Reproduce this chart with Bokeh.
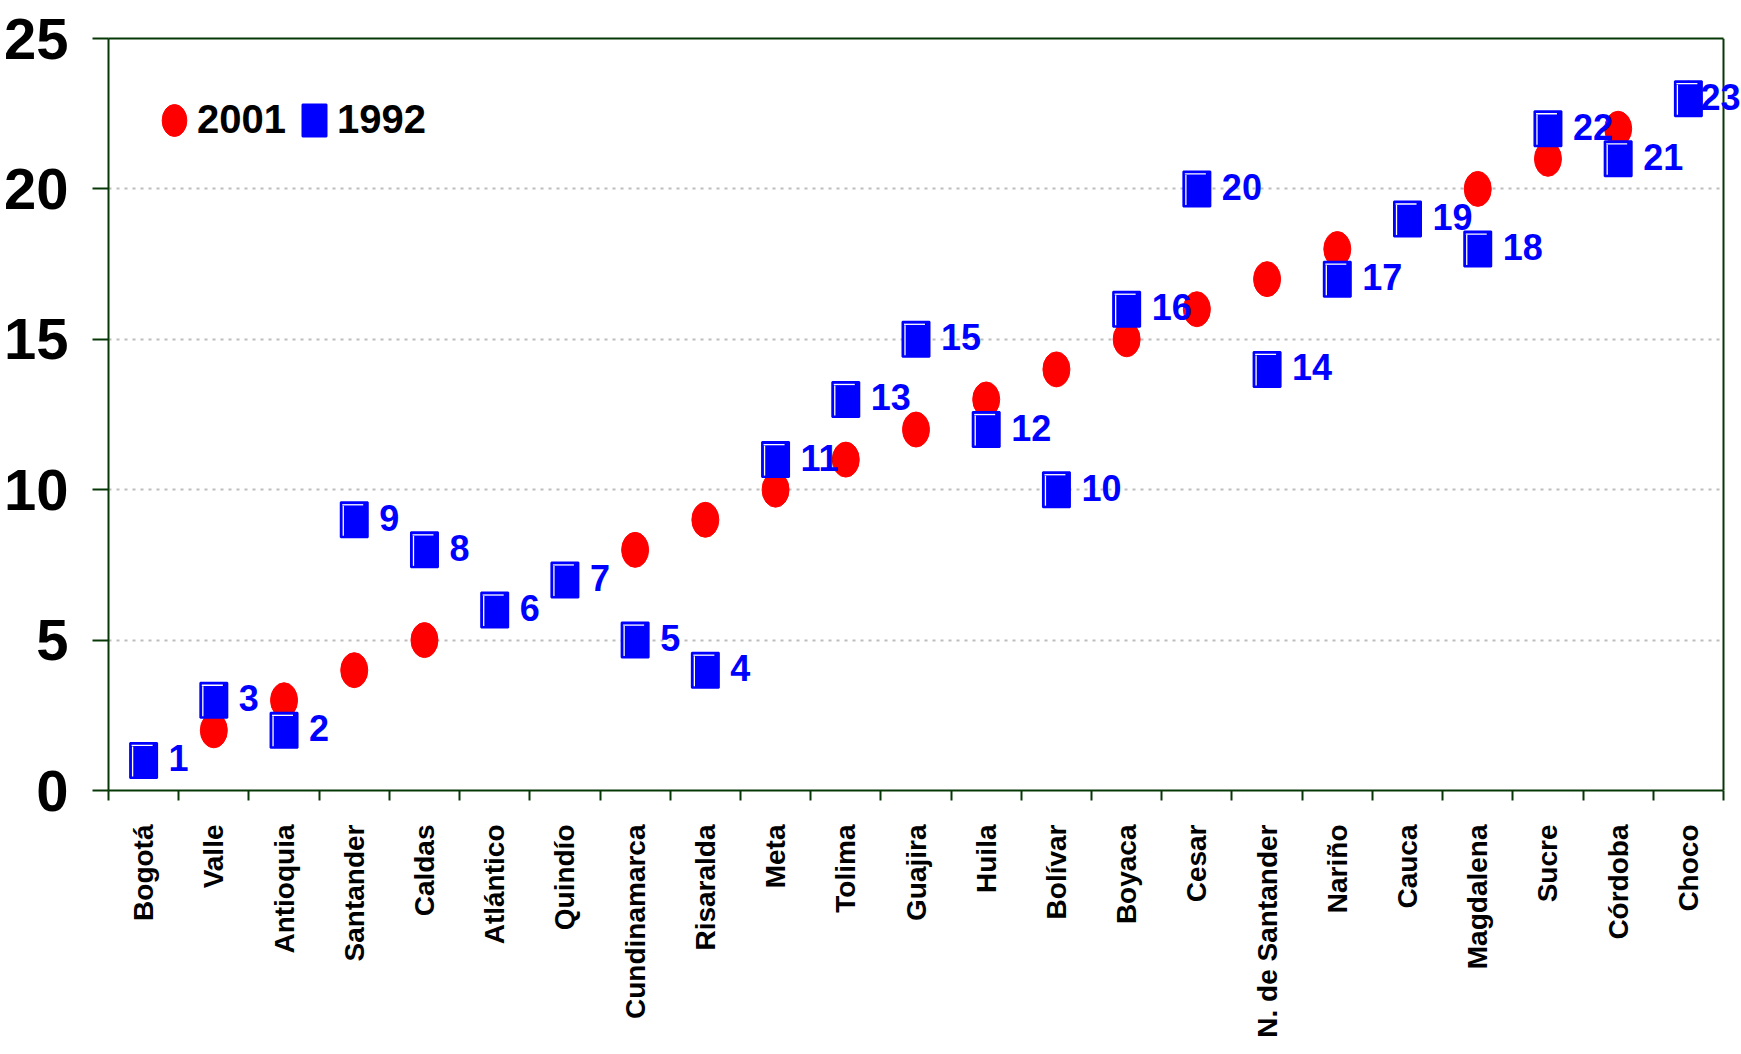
from bokeh.plotting import figure
from bokeh.models import (ColumnDataSource, FixedTicker, Legend, LegendItem, Range1d,
                          LabelSet, LinearAxis, Span)
from bokeh.core.properties import value, field
from bokeh.embed import file_html
from bokeh.resources import INLINE

# ---------------- data ----------------
departments = ["Bogotá", "Valle", "Antioquia", "Santander", "Caldas", "Atlántico",
               "Quindío", "Cundinamarca", "Risaralda", "Meta", "Tolima", "Guajira",
               "Huila", "Bolívar", "Boyaca", "Cesar", "N. de Santander", "Nariño",
               "Cauca", "Magdalena", "Sucre", "Córdoba", "Choco"]
rank_2001 = [1, 2, 3, 4, 5, 6, 7, 8, 9, 10, 11, 12, 13, 14, 15, 16, 17, 18, 19, 20, 21, 22, 23]
rank_1992 = [1, 3, 2, 9, 8, 6, 7, 5, 4, 11, 13, 15, 12, 10, 16, 20, 14, 17, 19, 18, 22, 21, 23]
y_ticks = [0, 5, 10, 15, 20, 25]
series_labels = ["2001", "1992"]

# ---------------- style ----------------
FONT = "'Liberation Sans', Arial, sans-serif"
GREEN = "#063806"
RED = "#ff0000"
BLUE = "#0000ff"

PLOT_W, EXTRA_W, FRAME_H = 1615, 17, 752   # EXTRA_W: room right of the box for the last label
n = len(departments)
positions = [i + 1 for i in range(n)]
px_x = PLOT_W / n
px_y = FRAME_H / (y_ticks[-1] - y_ticks[0])
x_lo, x_hi = 0.5, n + 0.5
label_dx = [25 if i < n - 1 else 12 for i in range(n)]

src = ColumnDataSource(dict(
    x=positions, r01=rank_2001, r92=rank_1992,
    lbl=[str(v) for v in rank_1992], dx=label_dx,
    hl_top_x=[p - 1.5 / px_x for p in positions],
    hl_top_y=[r + (35 / 2 - 2.5) / px_y for r in rank_1992],
    hl_left_x=[p - (13.5 - 2.5) / px_x for p in positions],
    hl_left_y=[r - 1.0 / px_y for r in rank_1992],
))

p = figure(frame_width=PLOT_W + EXTRA_W, frame_height=FRAME_H,
           x_range=Range1d(x_lo, x_hi + EXTRA_W / px_x),
           y_range=Range1d(y_ticks[0], y_ticks[-1]),
           output_backend="svg", toolbar_location=None,
           min_border_left=108, min_border_top=38, min_border_right=0, min_border_bottom=260)

p.background_fill_color = "white"
p.border_fill_color = "white"
p.outline_line_color = None

# grid
p.xgrid.visible = False
p.ygrid.ticker = FixedTicker(ticks=y_ticks)
p.ygrid.cross_bounds = (x_lo, x_hi)
p.ygrid.grid_line_color = "#bdbdbd"
p.ygrid.grid_line_width = 2
p.ygrid.grid_line_dash = "3 5"

# y axis
ya = p.yaxis[0]
ya.ticker = FixedTicker(ticks=y_ticks)
ya.axis_line_color = GREEN
ya.axis_line_width = 2
ya.major_tick_line_color = GREEN
ya.major_tick_line_width = 2
ya.major_tick_in = 0
ya.major_tick_out = 16
ya.minor_tick_line_color = None
ya.major_label_standoff = 24
ya.major_label_text_font = FONT
ya.major_label_text_font_style = "bold"
ya.major_label_text_font_size = "58px"
ya.major_label_text_color = "black"

# x axis: labels at centers, ticks at boundaries
xa = p.xaxis[0]
xa.bounds = (x_lo, x_hi)
xa.ticker = FixedTicker(ticks=positions, minor_ticks=[i + 0.5 for i in range(n + 1)])
xa.major_label_overrides = {pos: name for pos, name in zip(positions, departments)}
xa.major_label_orientation = 3.14159265 / 2
xa.axis_line_color = GREEN
xa.axis_line_width = 2
xa.major_tick_line_color = None
xa.major_tick_in = 0
xa.major_tick_out = 0
xa.minor_tick_line_color = GREEN
xa.minor_tick_line_width = 2
xa.minor_tick_in = 0
xa.minor_tick_out = 10
xa.major_label_standoff = 24
xa.major_label_text_font = FONT
xa.major_label_text_font_style = "bold"
xa.major_label_text_font_size = "28px"
xa.major_label_text_color = "black"

# top and right edges of the box
top = LinearAxis(ticker=FixedTicker(ticks=[]), bounds=(x_lo, x_hi),
                 axis_line_color=GREEN, axis_line_width=2,
                 major_tick_line_color=None, minor_tick_line_color=None,
                 major_label_text_font_size="0px")
p.add_layout(top, "above")
p.add_layout(Span(location=x_hi, dimension="height", line_color=GREEN, line_width=2))

# glyphs
circ = p.ellipse(x="x", y="r01", width=27, height=35, width_units="screen",
                 height_units="screen", source=src, fill_color=RED, line_color=RED)
sq = p.rect(x="x", y="r92", width=27, height=35, width_units="screen",
            height_units="screen", source=src, fill_color=BLUE, line_color=BLUE, line_width=2)
p.rect(x="hl_top_x", y="hl_top_y", width=21, height=1.3, width_units="screen",
       height_units="screen", source=src, fill_color="white", line_color=None)
p.rect(x="hl_left_x", y="hl_left_y", width=1.3, height=30, width_units="screen",
       height_units="screen", source=src, fill_color="white", line_color=None)

labels = LabelSet(x="x", y="r92", text="lbl", source=src, x_offset=field("dx"), y_offset=2,
                  text_align="left", text_baseline="middle", text_color=BLUE,
                  text_font=value(FONT), text_font_style="bold", text_font_size="36px")
p.add_layout(labels)


def make_legend(label, renderer, gw, loc, standoff):
    lg = Legend(items=[LegendItem(label=label, renderers=[renderer])],
                orientation="horizontal", location=loc)
    lg.label_text_font = FONT
    lg.label_text_font_style = "bold"
    lg.label_text_font_size = "40px"
    lg.label_text_color = "black"
    lg.glyph_width = gw
    lg.glyph_height = 40
    lg.label_standoff = standoff
    lg.padding = 0
    lg.margin = 0
    lg.border_line_color = None
    lg.background_fill_alpha = 0
    return lg


p.add_layout(make_legend(series_labels[0], circ, 40, (46, 648), 3))
p.add_layout(make_legend(series_labels[1], sq, 30, (191, 648), 8))

open("out.html", "w").write(file_html(p, INLINE))
